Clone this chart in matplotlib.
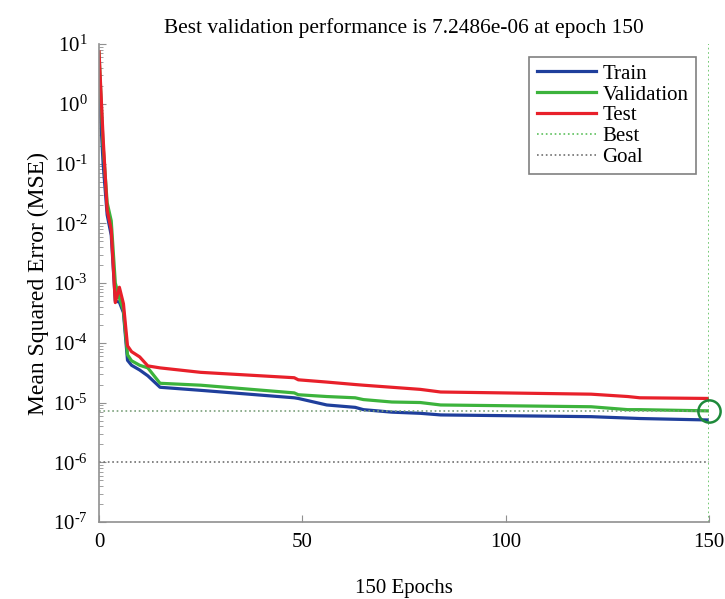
import numpy as np
import matplotlib
matplotlib.use('Agg')
import matplotlib.pyplot as plt
from matplotlib.ticker import FuncFormatter

plt.rcParams['font.family'] = ['Liberation Serif', 'DejaVu Serif']
plt.rcParams['mathtext.fontset'] = 'custom'
plt.rcParams['mathtext.rm'] = 'Liberation Serif'
plt.rcParams['mathtext.default'] = 'regular'

epochs = [0, 1, 2, 3, 4, 5, 6, 7, 8, 10, 12, 15, 25, 48, 49, 56, 63, 65, 72, 79, 84, 121, 130, 133, 150]

train = [2.0, 0.1, 0.0138, 6.3e-3, 5.0e-4, 4.8e-4, 3.2e-4, 5.1e-5, 4.2e-5, 3.5e-5, 2.8e-5, 1.8e-5, 1.6e-5,
         1.2e-5, 1.17e-5, 9.1e-6, 8.3e-6, 7.6e-6, 6.9e-6, 6.6e-6, 6.2e-6, 5.8e-6, 5.5e-6, 5.4e-6, 5.1e-6]
validation = [7.1, 0.2, 0.022, 0.011, 1.0e-3, 5.6e-4, 3.5e-4, 6.3e-5, 5.0e-5, 4.2e-5, 3.8e-5, 2.1e-5, 1.95e-5,
              1.45e-5, 1.35e-5, 1.26e-5, 1.2e-5, 1.12e-5, 1.02e-5, 1.0e-5, 9.1e-6, 8.5e-6, 7.6e-6, 7.6e-6, 7.2486e-6]
test = [7.4, 0.27, 0.0166, 7.8e-3, 4.7e-4, 8.5e-4, 4.5e-4, 8.9e-5, 7.1e-5, 5.8e-5, 4.1e-5, 3.8e-5, 3.2e-5,
        2.6e-5, 2.4e-5, 2.2e-5, 2.0e-5, 1.95e-5, 1.8e-5, 1.66e-5, 1.5e-5, 1.38e-5, 1.26e-5, 1.2e-5, 1.17e-5]

best_epoch = 150
best_perf = 7.2486e-06
goal = 1e-6
n_epochs = 150

def pow10(v, pos):
    k = int(round(np.log10(v)))
    if k < 0:
        return r'$10^{\text{-}%d}$' % (-k)
    return r'$10^{%d}$' % k

fig = plt.figure(figsize=(7.25, 5.99), dpi=100)
ax = fig.add_axes([0.1366, 0.1285, 0.8414, 0.798])

ax.plot(epochs, train, color='#1f3f9c', lw=2.3, label='Train')
ax.plot(epochs, validation, color='#3cb33c', lw=2.3, label='Validation')
ax.plot(epochs, test, color='#e8202a', lw=2.3, label='Test')
ax.axvline(best_epoch, color='#5cc05c', ls=':', lw=1.2, label='Best')
ax.axhline(best_perf, color='#7aa07a', ls=':', lw=1.2)
ax.axhline(goal, color='#707070', ls=':', lw=1.2, label='Goal')
ax.plot(best_epoch, best_perf, 'o', mfc='none', mec='#1e8a3a', ms=16, mew=1.8, clip_on=False)

ax.set_yscale('log')
ax.set_ylim(1e-7, 1e1)
ax.set_xlim(0, n_epochs)
ax.set_xticks([0, 50, 100, 150])
ax.yaxis.set_major_formatter(FuncFormatter(pow10))

for s in ['top', 'right']:
    ax.spines[s].set_visible(False)
for s in ['left', 'bottom']:
    ax.spines[s].set_color('#909090')
    ax.spines[s].set_linewidth(1.2)
ax.tick_params(which='both', direction='in', color='#909090', labelsize=15)
ax.tick_params(axis='x', pad=8)
ax.tick_params(axis='y', pad=8)
ax.tick_params(which='major', length=5)
ax.tick_params(which='minor', length=3)

ax.set_title('Best validation performance is 7.2486e-06 at epoch 150', fontsize=15.4, pad=8)
ax.set_xlabel('150 Epochs', fontsize=15, labelpad=19)
ax.set_ylabel('Mean Squared Error (MSE)', fontsize=17, labelpad=3)

leg = ax.legend(loc='upper right', bbox_to_anchor=(0.995, 0.995), fontsize=15, handlelength=2.85,
                labelspacing=0.06, borderpad=0.35, handletextpad=0.3, fancybox=False, framealpha=1)
leg.get_frame().set_edgecolor('#808080')
leg.get_frame().set_linewidth(1.2)

fig.savefig('out.png', dpi=100)
